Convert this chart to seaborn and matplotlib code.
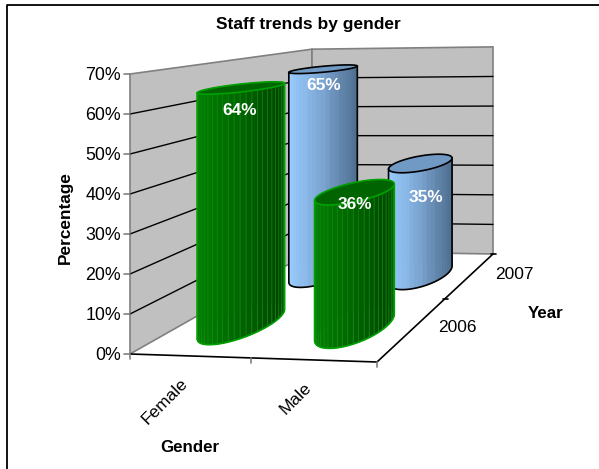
import numpy as np
import pandas as pd
import matplotlib
matplotlib.use("Agg")
import matplotlib.pyplot as plt
import seaborn as sns

genders = ["Female", "Male"]
years = ["2006", "2007"]
values_2006 = [64, 36]
values_2007 = [65, 35]
z_ticks = [0, 10, 20, 30, 40, 50, 60, 70]

sns.set_theme(style="white")
plt.rcParams["font.family"] = ["Liberation Sans", "DejaVu Sans"]
plt.rcParams["text.color"] = "black"

# floor corners in pixels: front-left, front-right, back-right, back-left
FLOOR = np.array([[130, 354], [377, 362], [493, 254], [312, 251]], dtype=float)
Z_FRONT = 280 / 70  # pixels per percent at the front-left corner


def homography(pts):
    src = [(0, 0), (1, 0), (1, 1), (0, 1)]
    A, b = [], []
    for (u, v), (x, y) in zip(src, pts):
        A.append([u, v, 1, 0, 0, 0, -u * x, -v * x])
        A.append([0, 0, 0, u, v, 1, -u * y, -v * y])
        b += [x, y]
    h = np.linalg.solve(np.array(A), np.array(b))
    return np.append(h, 1).reshape(3, 3)


H = homography(FLOOR)


def project(u, v, z=0):
    u, v, z = np.asarray(u, float), np.asarray(v, float), np.asarray(z, float)
    w = H[2, 0] * u + H[2, 1] * v + 1
    x = (H[0, 0] * u + H[0, 1] * v + H[0, 2]) / w
    y = (H[1, 0] * u + H[1, 1] * v + H[1, 2]) / w
    return x, y - z * Z_FRONT / w


def draw_cylinder(ax, u0, v0, value, pal, top_color, edge, facet_color, order):
    t = np.linspace(0, 2 * np.pi, 49)
    u = u0 + 0.13 * np.cos(t)
    v = v0 + 0.17 * np.sin(t)
    xb, yb = project(u, v, 0)
    xt, yt = project(u, v, value)
    xmin, xmax = xb.min(), xb.max()
    facets = sorted(range(48), key=lambda i: -(v[i] + v[i + 1]))
    for i in facets:
        f = ((xb[i] + xb[i + 1]) / 2 - xmin) / (xmax - xmin)
        c = pal[min(int(f * len(pal)), len(pal) - 1)]
        ax.fill([xb[i], xb[i + 1], xt[i + 1], xt[i]], [yb[i], yb[i + 1], yt[i + 1], yt[i]],
                color=c, ec=facet_color or c, lw=0.5, zorder=order)
    ax.fill(xt, yt, color=top_color, ec=edge, lw=1.2, zorder=order + 0.1)
    # silhouette
    il, ir = np.argmin(xb[:-1]), np.argmax(xb[:-1])
    idx = [(il + k) % 48 for k in range((ir - il) % 48 + 1)]
    if yb[idx].mean() < ((yb[:-1]).mean()):
        idx = [(il - k) % 48 for k in range((il - ir) % 48 + 1)]
    ax.plot(np.r_[xt[il], xb[idx], xt[ir]], np.r_[yt[il], yb[idx], yt[ir]],
            color=edge, lw=1.2, zorder=order + 0.1, solid_joinstyle="round")


fig = plt.figure(figsize=(5.99, 4.69), dpi=100)
ax = fig.add_axes([0, 0, 1, 1])
ax.set_xlim(0, 599)
ax.set_ylim(469, 0)
ax.axis("off")

# chart frame, only left and top are in the crop
ax.plot([7, 7, 599], [469, 5.5, 5.5], color="black", lw=1.3)

# walls
zmax = z_ticks[-1]
lx, ly = project([0, 0, 0, 0], [0, 1, 1, 0], [0, 0, zmax, zmax])
bx, by = project([0, 1, 1, 0], [1, 1, 1, 1], [0, 0, zmax, zmax])
ax.fill(lx, ly, color="#C0C0C0", ec="#808080", lw=1.2, zorder=1)
ax.fill(bx, by, color="#C0C0C0", ec="#808080", lw=1.2, zorder=1)

# gridlines
rows = []
for z in z_ticks[1:-1]:
    for k, (u, v) in enumerate([(0, 0), (0, 1), (1, 1)]):
        x, y = project(u, v, z)
        rows.append({"tick": z, "k": k, "x": float(x), "y": float(y)})
grid = pd.DataFrame(rows)
sns.lineplot(data=grid, x="x", y="y", units="tick", estimator=None, sort=False,
             color="black", lw=1, ax=ax, zorder=2, legend=False)
ax.set_xlim(0, 599)
ax.set_ylim(469, 0)
ax.axis("off")

# floor edges and ticks
fx, fy = project([0, 1, 1], [0, 0, 1])
ax.plot(fx, fy, color="black", lw=1.2, zorder=2)
for z in z_ticks:
    x, y = project(0, 0, z)
    ax.plot([x - 6, x], [y, y], color="#808080", lw=1.2, zorder=2)
    ax.text(x - 9, y + 1, f"{z}%", ha="right", va="center", fontsize=12.8)
for u in [0, 0.5, 1]:
    x, y = project(u, 0)
    ax.plot([x, x], [y, y + 5], color="#808080", lw=1.2, zorder=2)
for v in [0.5, 1]:
    x, y = project(1, v)
    ax.plot([x - 2, x + 3], [y, y], color="black", lw=1.2, zorder=2)

green = sns.blend_palette(["#008000", "#006400", "#004400"], 24)
blue = sns.blend_palette(["#99CCFF", "#7aa3cf", "#4f6f90"], 24)
G_EDGE, B_EDGE = "#00a000", "black"
G_TOP, B_TOP = "#006400", "#7099c4"

draw_cylinder(ax, 0.25, 0.75, values_2007[0], blue, B_TOP, B_EDGE, None, 3)
draw_cylinder(ax, 0.75, 0.75, values_2007[1], blue, B_TOP, B_EDGE, None, 4)
draw_cylinder(ax, 0.25, 0.25, values_2006[0], green, G_TOP, G_EDGE, "#128212", 5)
draw_cylinder(ax, 0.75, 0.25, values_2006[1], green, G_TOP, G_EDGE, "#128212", 6)

# data labels
for (u, v, val, dx, dy) in [(0.25, 0.25, values_2006[0], -3, 23), (0.75, 0.25, values_2006[1], -1, 13),
                            (0.25, 0.75, values_2007[0], -1, 16), (0.75, 0.75, values_2007[1], 5, 34)]:
    x, y = project(u, v, val)
    ax.text(x + dx, y + dy, f"{val}%", ha="center", va="center", color="white",
            fontsize=12.4, fontweight="bold", zorder=10)

# category labels
for u, name in zip([0.25, 0.75], genders):
    x, y = project(u, 0)
    ax.text(x - 5, y + 25, name, rotation=45, ha="right", va="center", fontsize=12.5,
            rotation_mode="anchor")
for v, name in zip([0.25, 0.75], years):
    x, y = project(1, v)
    ax.text(x + 24, y, name, ha="left", va="center", fontsize=12.5)

ax.text(308, 25, "Staff trends by gender", ha="center", va="center", fontsize=12.5, fontweight="bold")
ax.text(65, 218, "Percentage", rotation=90, ha="center", va="center", fontsize=12.4, fontweight="bold")
ax.text(190, 447, "Gender", ha="center", va="center", fontsize=12.2, fontweight="bold")
ax.text(546, 313, "Year", ha="center", va="center", fontsize=12.2, fontweight="bold")

fig.savefig("out.png", dpi=100)
